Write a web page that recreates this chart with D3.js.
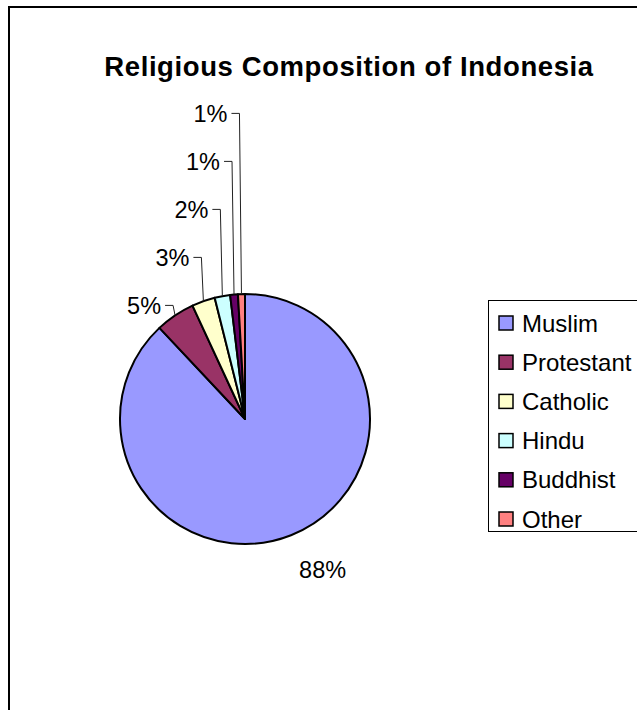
<!DOCTYPE html>
<html>
<head>
<meta charset="utf-8">
<script src="https://cdn.jsdelivr.net/npm/d3@7"></script>
<style>
  body { margin: 0; background: #fff; }
  svg { display: block; font-family: Arial, "Liberation Sans", sans-serif; }
</style>
</head>
<body>
<div id="chart"></div>
<script>
// religions, clockwise from 12 o'clock
var religions = ["Muslim", "Protestant", "Catholic", "Hindu", "Buddhist", "Other"];
var shares = [88, 5.1, 3, 2, 1, 0.9];
var sliceColors = ["#9999ff", "#993366", "#ffffcc", "#ccffff", "#660066", "#ff8080"];

var width = 637, height = 710;
var cx = 245, cy = 419, radius = 125;

var svg = d3.select("#chart")
    .append("svg")
    .attr("width", width)
    .attr("height", height);

// outer frame (runs off the right / bottom of the picture)
svg.append("rect")
    .attr("x", 9).attr("y", 7)
    .attr("width", 720).attr("height", 800)
    .attr("fill", "#fff")
    .attr("stroke", "#000")
    .attr("stroke-width", 2);

svg.append("text")
    .attr("x", 349).attr("y", 76)
    .attr("text-anchor", "middle")
    .attr("font-size", 27.5)
    .attr("letter-spacing", 0.6)
    .attr("font-weight", "bold")
    .text("Religious Composition of Indonesia");

var data = religions.map(function (name, i) {
    return { label: name, value: shares[i], color: sliceColors[i] };
});

var pie = d3.pie()
    .sort(null)
    .value(function (d) { return d.value; });

var arcs = pie(data);

var arc = d3.arc().innerRadius(0).outerRadius(radius);

var g = svg.append("g").attr("transform", "translate(" + cx + "," + cy + ")");

g.selectAll("path.slice")
    .data(arcs)
    .enter()
    .append("path")
    .attr("class", "slice")
    .attr("d", arc)
    .attr("fill", function (d) { return d.data.color; })
    .attr("stroke", "#000")
    .attr("stroke-width", 2)
    .attr("stroke-linejoin", "round");

function pct(d) {
    return Math.round(d.data.value) + "%";
}

// big slice: label sits outside the rim at its mid angle
var labelG = svg.append("g").attr("font-size", 23.5).attr("fill", "#000");

var big = arcs[0];
var bigMid = (big.startAngle + big.endAngle) / 2;
labelG.append("text")
    .attr("x", cx + (radius + 22) * Math.sin(bigMid))
    .attr("y", cy - (radius + 22) * Math.cos(bigMid))
    .attr("dy", "0.95em")
    .text(pct(big));

// small slices: labels stacked upward-left with leader lines
var prevY = Infinity;
arcs.slice(1).forEach(function (d) {
    var mid = (d.startAngle + d.endAngle) / 2;
    var ax = cx + radius * Math.sin(mid);
    var ay = cy - radius * Math.cos(mid);
    var ly = Math.min(ay - 10, prevY - 48);
    prevY = ly;
    var elbowX = ax - 2;
    var textRight = elbowX - 12;

    labelG.append("text")
        .attr("x", textRight)
        .attr("y", ly)
        .attr("dy", "0.36em")
        .attr("text-anchor", "end")
        .text(pct(d));

    svg.append("path")
        .attr("d", d3.line()([[elbowX - 8, ly], [elbowX, ly], [ax, ay]]))
        .attr("fill", "none")
        .attr("stroke", "#222")
        .attr("stroke-width", 1);
});

// legend
var legend = svg.append("g");
legend.append("rect")
    .attr("x", 488.5).attr("y", 300.5)
    .attr("width", 200).attr("height", 231)
    .attr("fill", "#fff")
    .attr("stroke", "#000")
    .attr("stroke-width", 1);

var rowY = d3.scalePoint()
    .domain(religions)
    .range([323, 519]);

var rows = legend.selectAll("g.row")
    .data(data)
    .enter()
    .append("g")
    .attr("class", "row")
    .attr("transform", function (d) { return "translate(0," + rowY(d.label) + ")"; });

rows.append("rect")
    .attr("x", 499).attr("y", -7)
    .attr("width", 14).attr("height", 14)
    .attr("fill", function (d) { return d.color; })
    .attr("stroke", "#000")
    .attr("stroke-width", 1.5);

rows.append("text")
    .attr("x", 522)
    .attr("dy", "0.36em")
    .attr("font-size", 24)
    .text(function (d) { return d.label; });
</script>
</body>
</html>
